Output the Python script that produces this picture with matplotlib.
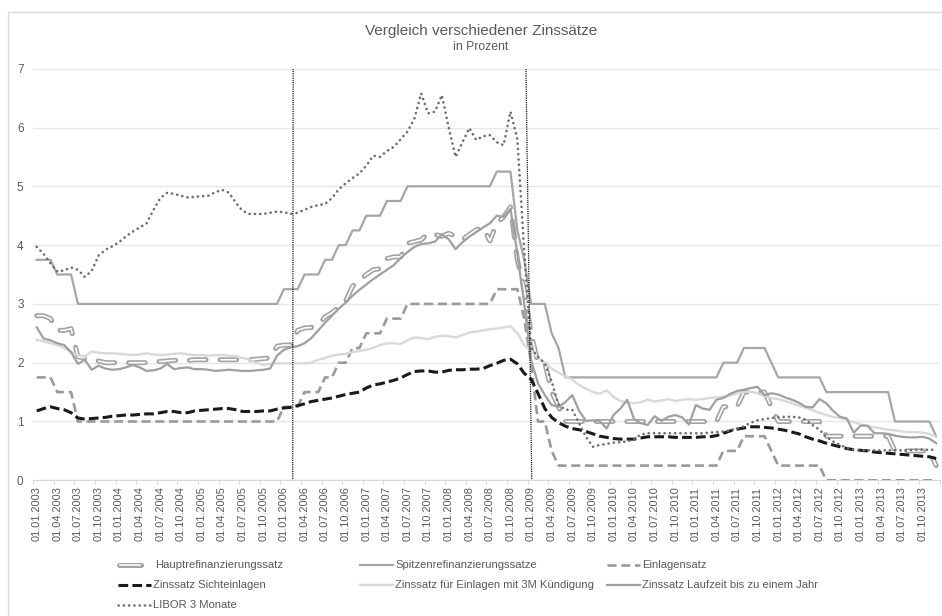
import matplotlib
matplotlib.use("Agg")
import matplotlib.pyplot as plt
from matplotlib.lines import Line2D
from matplotlib.patches import Rectangle
import numpy as np
import pandas as pd

plt.rcParams["font.family"] = ["Liberation Sans", "DejaVu Sans"]
plt.rcParams["lines.scale_dashes"] = False

# --- Daten: Monatswerte 01.01.2003 - 01.12.2013 ---
months = pd.date_range("2003-01-01", periods=132, freq="MS")
month_labels = list(months.strftime("%d.%m.%Y"))

haupt = [
    2.80, 2.80, 2.75, 2.55, 2.55, 2.58, 2.10, 2.08, 2.06, 2.03, 2.00, 2.00,
    2.00, 2.00, 2.00, 2.00, 2.00, 2.02, 2.02, 2.03, 2.04, 2.04, 2.04, 2.05,
    2.05, 2.05, 2.05, 2.05, 2.05, 2.05, 2.05, 2.05, 2.06, 2.07, 2.08, 2.28,
    2.30, 2.30, 2.55, 2.59, 2.60, 2.65, 2.78, 2.85, 2.95, 3.05, 3.30, 3.40,
    3.50, 3.58, 3.60, 3.77, 3.80, 3.80, 4.03, 4.06, 4.09, 4.20, 4.18, 4.15,
    4.20, 4.15, 4.09, 4.18, 4.26, 4.30, 4.07, 4.37, 4.48, 4.65, 3.75, 3.25,
    2.50, 2.00, 2.00, 1.50, 1.25, 1.00, 1.00, 1.00, 1.00, 1.00, 1.00, 1.00,
    1.00, 1.00, 1.00, 1.00, 1.00, 1.00, 1.00, 1.00, 1.00, 1.00, 1.00, 1.00,
    1.00, 1.00, 1.00, 1.00, 1.25, 1.25, 1.25, 1.50, 1.50, 1.50, 1.50, 1.25,
    1.00, 1.00, 1.00, 1.00, 1.00, 1.00, 1.00, 0.75, 0.75, 0.75, 0.75, 0.75,
    0.75, 0.75, 0.75, 0.75, 0.75, 0.50, 0.50, 0.50, 0.50, 0.50, 0.50, 0.25,
]

spitzen = [
    3.75, 3.75, 3.75, 3.50, 3.50, 3.50, 3.00, 3.00, 3.00, 3.00, 3.00, 3.00,
    3.00, 3.00, 3.00, 3.00, 3.00, 3.00, 3.00, 3.00, 3.00, 3.00, 3.00, 3.00,
    3.00, 3.00, 3.00, 3.00, 3.00, 3.00, 3.00, 3.00, 3.00, 3.00, 3.00, 3.00,
    3.25, 3.25, 3.25, 3.50, 3.50, 3.50, 3.75, 3.75, 4.00, 4.00, 4.25, 4.25,
    4.50, 4.50, 4.50, 4.75, 4.75, 4.75, 5.00, 5.00, 5.00, 5.00, 5.00, 5.00,
    5.00, 5.00, 5.00, 5.00, 5.00, 5.00, 5.00, 5.25, 5.25, 5.25, 4.25, 3.75,
    3.00, 3.00, 3.00, 2.50, 2.25, 1.75, 1.75, 1.75, 1.75, 1.75, 1.75, 1.75,
    1.75, 1.75, 1.75, 1.75, 1.75, 1.75, 1.75, 1.75, 1.75, 1.75, 1.75, 1.75,
    1.75, 1.75, 1.75, 1.75, 2.00, 2.00, 2.00, 2.25, 2.25, 2.25, 2.25, 2.00,
    1.75, 1.75, 1.75, 1.75, 1.75, 1.75, 1.75, 1.50, 1.50, 1.50, 1.50, 1.50,
    1.50, 1.50, 1.50, 1.50, 1.50, 1.00, 1.00, 1.00, 1.00, 1.00, 1.00, 0.75,
]

einlagen = [
    1.75, 1.75, 1.75, 1.50, 1.50, 1.50, 1.00, 1.00, 1.00, 1.00, 1.00, 1.00,
    1.00, 1.00, 1.00, 1.00, 1.00, 1.00, 1.00, 1.00, 1.00, 1.00, 1.00, 1.00,
    1.00, 1.00, 1.00, 1.00, 1.00, 1.00, 1.00, 1.00, 1.00, 1.00, 1.00, 1.00,
    1.25, 1.25, 1.25, 1.50, 1.50, 1.50, 1.75, 1.75, 2.00, 2.00, 2.25, 2.25,
    2.50, 2.50, 2.50, 2.75, 2.75, 2.75, 3.00, 3.00, 3.00, 3.00, 3.00, 3.00,
    3.00, 3.00, 3.00, 3.00, 3.00, 3.00, 3.00, 3.25, 3.25, 3.25, 3.25, 2.75,
    2.00, 1.00, 1.00, 0.50, 0.25, 0.25, 0.25, 0.25, 0.25, 0.25, 0.25, 0.25,
    0.25, 0.25, 0.25, 0.25, 0.25, 0.25, 0.25, 0.25, 0.25, 0.25, 0.25, 0.25,
    0.25, 0.25, 0.25, 0.25, 0.50, 0.50, 0.50, 0.75, 0.75, 0.75, 0.75, 0.50,
    0.25, 0.25, 0.25, 0.25, 0.25, 0.25, 0.25, 0.00, 0.00, 0.00, 0.00, 0.00,
    0.00, 0.00, 0.00, 0.00, 0.00, 0.00, 0.00, 0.00, 0.00, 0.00, 0.00, 0.00,
]

sichteinlagen = [
    1.18, 1.22, 1.25, 1.22, 1.20, 1.15, 1.06, 1.04, 1.05, 1.06, 1.07, 1.09,
    1.10, 1.11, 1.11, 1.12, 1.13, 1.13, 1.15, 1.17, 1.17, 1.15, 1.15, 1.18,
    1.19, 1.20, 1.21, 1.22, 1.22, 1.20, 1.17, 1.17, 1.17, 1.18, 1.18, 1.21,
    1.23, 1.24, 1.27, 1.30, 1.34, 1.36, 1.38, 1.40, 1.43, 1.46, 1.48, 1.50,
    1.57, 1.62, 1.64, 1.67, 1.70, 1.74, 1.80, 1.85, 1.86, 1.86, 1.84, 1.84,
    1.87, 1.88, 1.88, 1.89, 1.89, 1.90, 1.95, 1.99, 2.04, 2.06, 1.98, 1.82,
    1.72, 1.48, 1.22, 1.07, 0.98, 0.92, 0.88, 0.86, 0.83, 0.79, 0.75, 0.73,
    0.71, 0.70, 0.70, 0.70, 0.72, 0.74, 0.74, 0.74, 0.74, 0.73, 0.73, 0.73,
    0.73, 0.74, 0.74, 0.76, 0.80, 0.84, 0.87, 0.89, 0.91, 0.91, 0.90, 0.89,
    0.87, 0.85, 0.82, 0.79, 0.74, 0.70, 0.67, 0.63, 0.60, 0.57, 0.54, 0.52,
    0.51, 0.50, 0.48, 0.47, 0.46, 0.45, 0.44, 0.43, 0.42, 0.41, 0.40, 0.37,
]

kuendigung_3m = [
    2.39, 2.36, 2.33, 2.30, 2.25, 2.18, 2.13, 2.10, 2.19, 2.17, 2.16, 2.16,
    2.15, 2.14, 2.13, 2.14, 2.16, 2.14, 2.13, 2.14, 2.15, 2.16, 2.14, 2.13,
    2.13, 2.12, 2.13, 2.13, 2.12, 2.11, 2.08, 2.05, 2.00, 1.96, 1.98, 1.99,
    1.99, 1.99, 1.99, 1.99, 2.00, 2.05, 2.08, 2.12, 2.14, 2.15, 2.18, 2.20,
    2.22, 2.25, 2.30, 2.33, 2.33, 2.32, 2.38, 2.43, 2.42, 2.40, 2.44, 2.46,
    2.45, 2.43, 2.47, 2.51, 2.53, 2.55, 2.57, 2.58, 2.60, 2.62, 2.50, 2.30,
    2.20, 2.08, 2.00, 1.90, 1.83, 1.77, 1.71, 1.62, 1.56, 1.50, 1.47, 1.53,
    1.42, 1.35, 1.32, 1.31, 1.33, 1.37, 1.34, 1.36, 1.38, 1.35, 1.37, 1.38,
    1.37, 1.38, 1.40, 1.41, 1.42, 1.44, 1.48, 1.50, 1.51, 1.48, 1.43, 1.40,
    1.38, 1.35, 1.31, 1.27, 1.23, 1.19, 1.15, 1.11, 1.08, 1.06, 1.02, 0.99,
    0.95, 0.92, 0.90, 0.88, 0.86, 0.85, 0.83, 0.82, 0.82, 0.81, 0.79, 0.74,
]

laufzeit_1j = [
    2.60, 2.41, 2.38, 2.33, 2.30, 2.18, 1.98, 2.05, 1.88, 1.95, 1.90, 1.88,
    1.89, 1.92, 1.96, 1.92, 1.86, 1.87, 1.90, 1.98, 1.89, 1.91, 1.92, 1.89,
    1.89, 1.88, 1.86, 1.87, 1.88, 1.87, 1.86, 1.86, 1.87, 1.88, 1.90, 2.12,
    2.22, 2.26, 2.28, 2.33, 2.42, 2.55, 2.68, 2.80, 2.92, 3.02, 3.14, 3.24,
    3.33, 3.42, 3.50, 3.58, 3.66, 3.78, 3.88, 3.97, 4.02, 4.03, 4.06, 4.18,
    4.10, 3.93, 4.05, 4.14, 4.22, 4.30, 4.37, 4.50, 4.48, 4.62, 3.85, 3.00,
    2.05, 1.65, 1.45, 1.28, 1.25, 1.33, 1.45, 1.18, 1.01, 1.02, 1.01, 0.88,
    1.11, 1.22, 1.37, 1.04, 0.97, 0.94, 1.09, 1.01, 1.08, 1.11, 1.07, 0.95,
    1.28, 1.22, 1.20, 1.37, 1.40, 1.47, 1.52, 1.54, 1.57, 1.59, 1.45, 1.48,
    1.46, 1.41, 1.37, 1.32, 1.25, 1.24, 1.38, 1.31, 1.18, 1.08, 1.05, 0.81,
    0.93, 0.93, 0.80, 0.80, 0.79, 0.76, 0.74, 0.73, 0.73, 0.74, 0.71, 0.63,
]

libor_3m = [
    3.97, 3.85, 3.69, 3.55, 3.57, 3.62, 3.58, 3.46, 3.56, 3.82, 3.92, 3.98,
    4.05, 4.15, 4.23, 4.30, 4.37, 4.60, 4.80, 4.89, 4.87, 4.84, 4.81, 4.82,
    4.83, 4.84, 4.90, 4.94, 4.89, 4.72, 4.58, 4.53, 4.53, 4.53, 4.55, 4.57,
    4.56, 4.53, 4.55, 4.60, 4.65, 4.68, 4.70, 4.80, 4.95, 5.05, 5.14, 5.22,
    5.35, 5.52, 5.50, 5.60, 5.67, 5.80, 5.93, 6.15, 6.58, 6.24, 6.27, 6.55,
    6.00, 5.50, 5.75, 5.99, 5.79, 5.85, 5.87, 5.75, 5.70, 6.27, 5.80, 3.90,
    2.25, 2.10, 1.99, 1.68, 1.28, 1.20, 1.20, 0.97, 0.74, 0.57, 0.60, 0.62,
    0.64, 0.65, 0.66, 0.70, 0.78, 0.80, 0.80, 0.80, 0.80, 0.80, 0.80, 0.80,
    0.80, 0.80, 0.81, 0.82, 0.83, 0.85, 0.88, 0.92, 0.98, 1.02, 1.04, 1.06,
    1.07, 1.08, 1.08, 1.07, 1.03, 0.94, 0.86, 0.74, 0.66, 0.60, 0.55, 0.52,
    0.51, 0.51, 0.51, 0.51, 0.51, 0.51, 0.51, 0.51, 0.52, 0.52, 0.52, 0.52,
]

# Markierungen (Monatsindex oben / unten) der beiden senkrechten Linien
event_lines = [(37.35, 37.28), (71.25, 72.1)]

# --- Stile ---
grey_txt = "#595959"
styles = {
    "Spitzenrefinanzierungssatze": dict(color="#a6a6a6", lw=1.6),
    "Einlagensatz": dict(color="#9a9a9a", lw=1.9, dashes=(6.5, 3.4)),
    "Zinssatz Sichteinlagen": dict(color="#1a1a1a", lw=2.2, dashes=(7.0, 3.0)),
    "Zinssatz für Einlagen mit 3M Kündigung": dict(color="#d9d9d9", lw=1.7),
    "Zinssatz Laufzeit bis zu einem Jahr": dict(color="#a0a0a0", lw=1.6),
    "LIBOR 3 Monate": dict(color="#6e6e6e", lw=1.9, dashes=(0.1, 3.7),
                           dash_capstyle="round"),
}
haupt_outer = dict(color="#a3a3a3", lw=3.6, dashes=(12.0, 10.0), dash_capstyle="round")
haupt_inner = dict(color="white", lw=1.2, dashes=(12.0, 10.0), dash_capstyle="butt")

series = {
    "Spitzenrefinanzierungssatze": spitzen,
    "Einlagensatz": einlagen,
    "Zinssatz Sichteinlagen": sichteinlagen,
    "Zinssatz für Einlagen mit 3M Kündigung": kuendigung_3m,
    "Zinssatz Laufzeit bis zu einem Jahr": laufzeit_1j,
    "LIBOR 3 Monate": libor_3m,
}

W, H = 942, 616
fig = plt.figure(figsize=(W / 100, H / 100), dpi=100)
ax = fig.add_axes([33.3 / W, 1 - 480.3 / H, 906.3 / W, 411.6 / H])

x = np.arange(len(month_labels))

# --- Linien ---
ax.plot(x, haupt, solid_joinstyle="round", zorder=3, **haupt_outer)
ax.plot(x, haupt, solid_joinstyle="round", zorder=3.1, **haupt_inner)
for k, (name, vals) in enumerate(series.items()):
    ax.plot(x, vals, solid_joinstyle="round", dash_joinstyle="round",
            zorder=4 + k * 0.1, **styles[name])

for top, bottom in event_lines:
    ax.plot([top, bottom], [7, 0], color="black", lw=0.9, dashes=(0.8, 0.8), zorder=6)

# --- Achsen ---
ax.set_xlim(-0.5, len(x) - 0.5)
ax.set_ylim(0, 7)
for s in ["top", "right", "left"]:
    ax.spines[s].set_visible(False)
ax.spines["bottom"].set_color("#d9d9d9")

ax.set_yticks(range(8))
ax.yaxis.grid(True, color="#e7e7e7", lw=1.0)
ax.set_axisbelow(True)
ax.tick_params(axis="y", length=0, pad=7, labelsize=8.5, labelcolor=grey_txt)

ax.set_xticks(x[::3])
ax.set_xticklabels(month_labels[::3], rotation=90, fontsize=7.9, color=grey_txt)
ax.set_xticks(np.arange(-0.5, len(x), 3), minor=True)
ax.tick_params(axis="x", which="major", length=0, pad=4.5)
ax.tick_params(axis="x", which="minor", length=3.2, color="#d9d9d9", width=0.8)

# --- Titel ---
fig.text(481 / W, 1 - 31.5 / H, "Vergleich verschiedener Zinssätze",
         ha="center", va="center", fontsize=11, color=grey_txt)
fig.text(481 / W, 1 - 46.5 / H, "in Prozent",
         ha="center", va="center", fontsize=8.8, color=grey_txt)

# Rahmen des Diagrammbereichs
fig.add_artist(Rectangle((8.3 / W, -0.05), 1.0, 1.05 - 11.7 / H,
                         transform=fig.transFigure, fill=False,
                         edgecolor="#d9d9d9", lw=1.0))

# --- Legende (Excel-artig, feste Spalten) ---
def fy(py):
    return 1 - py / H


def handle(x0, x1, py, **kw):
    fig.add_artist(Line2D([x0 / W, x1 / W], [fy(py), fy(py)],
                          transform=fig.transFigure, **kw))


rows = [565, 585, 605]
legend_items = [
    ("Hauptrefinanzierungssatz", 118, 0),
    ("Spitzenrefinanzierungssatze", 360, 0),
    ("Einlagensatz", 607, 0),
    ("Zinssatz Sichteinlagen", 118, 1),
    ("Zinssatz für Einlagen mit 3M Kündigung", 360, 1),
    ("Zinssatz Laufzeit bis zu einem Jahr", 607, 1),
    ("LIBOR 3 Monate", 118, 2),
]
for name, hx, r in legend_items:
    py = rows[r]
    if name == "Hauptrefinanzierungssatz":
        handle(hx + 1, hx + 23, py, color="#a3a3a3", lw=3.6, solid_capstyle="round")
        handle(hx + 1, hx + 23, py, color="white", lw=1.2, solid_capstyle="butt")
        tx = 155
    else:
        handle(hx, hx + 33, py, **styles[name])
        tx = hx + 35
    fig.text(tx / W, fy(py), name, ha="left", va="center",
             fontsize=8.1, color=grey_txt)

fig.savefig("out.png", dpi=100, facecolor="white")
